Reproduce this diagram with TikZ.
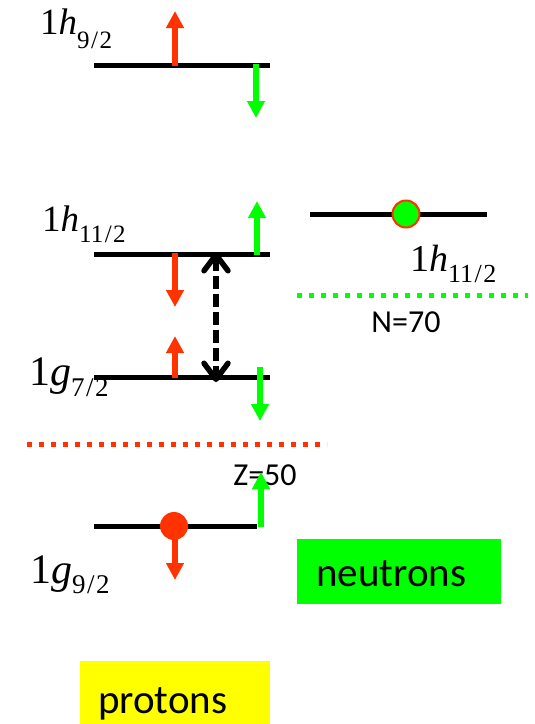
\documentclass[tikz,border=0pt]{standalone}
\usepackage{fontspec}
\setmainfont{Liberation Serif}
\newfontfamily\calfont{Carlito}
\usetikzlibrary{arrows.meta}
\definecolor{pred}{RGB}{255,51,0}
\definecolor{ngreen}{RGB}{0,255,0}
\definecolor{pyellow}{RGB}{255,255,0}
\newcommand{\lvlabel}[5]{{\fontsize{#1}{#1}\selectfont 1\textit{#3}}\raisebox{-#5pt}{\fontsize{#2}{#2}\selectfont #4}}
\newcommand{\frc}[2]{#1\kern1.5pt/\kern1.5pt#2}
\tikzset{
  level/.style={line width=5pt,black},
  spinup/.style={line width=6.5pt,-{Triangle[width=17pt,length=17pt]}},
  spindown/.style={line width=6.5pt,-{Triangle[width=17pt,length=17pt]}},
  lbl/.style={anchor=base west,inner sep=0pt},
  sanslbl/.style={anchor=base,inner sep=0pt,font=\calfont\fontsize{32}{32}\selectfont},
  gap/.style={line width=5pt,dash pattern=on 5pt off 7pt},
  boxlbl/.style={anchor=north west,inner sep=0pt,font=\calfont\fontsize{41}{41}\selectfont},
  barbtip/.tip={Straight Barb[length=16pt,width=24pt,line width=5.5pt,round]}
}
\begin{document}
\begin{tikzpicture}[x=1pt,y=-1pt]
\useasboundingbox (0,0) rectangle (535,724);
% ---- proton levels
\coordinate (h9L) at (94,65);  \coordinate (h9R) at (270,65);
\coordinate (h11L) at (94,254); \coordinate (h11R) at (270,254);
\coordinate (g7L) at (94,377);  \coordinate (g7R) at (270,377);
\coordinate (g9L) at (94,526);  \coordinate (g9R) at (257,526);
\draw[level] (h9L) -- (h9R);
\draw[level] (h11L) -- (h11R);
\draw[level] (g7L) -- (g7R);
\draw[level] (g9L) -- (g9R);
% labels
\node[lbl] (lh9) at (40,34) {\lvlabel{37}{25}{h}{\frc92}{14}};
\node[lbl] (lh11) at (42,231) {\lvlabel{37}{25}{h}{\frc{11}2}{11}};
\node[lbl] (lg7) at (29,385) {\lvlabel{42}{27}{g}{\frc72}{11}};
\node[lbl] (lg9) at (30,583) {\lvlabel{42}{27}{g}{\frc92}{10}};
% spin arrows, 1h9/2
\coordinate (a1s) at (175,66); \coordinate (a1e) at (175,11);
\draw[spinup,pred] (a1s) -- (a1e);
\coordinate (a2s) at (256,64); \coordinate (a2e) at (256,118);
\draw[spindown,ngreen] (a2s) -- (a2e);
% 1h11/2
\coordinate (a3s) at (257,255); \coordinate (a3e) at (257,201);
\draw[spinup,ngreen] (a3s) -- (a3e);
\coordinate (a4s) at (175,253); \coordinate (a4e) at (175,307);
\draw[spindown,pred] (a4s) -- (a4e);
% 1g7/2
\coordinate (a5s) at (175,378); \coordinate (a5e) at (175,336);
\draw[spinup,pred] (a5s) -- (a5e);
\coordinate (a6s) at (260,367); \coordinate (a6e) at (260,421);
\draw[spindown,ngreen] (a6s) -- (a6e);
% dashed transition
\coordinate (t1) at (216,252); \coordinate (t2) at (216,382);
\draw[line width=6.5pt,dash pattern=on 13pt off 5pt,barbtip-barbtip] (t1) -- (t2);
% Z=50 gap
\coordinate (z1) at (27,444); \coordinate (z2) at (327,444);
\draw[gap,pred] (z1) -- (z2);
\node[sanslbl] (Z) at (265,485) {Z=50};
% 1g9/2 arrows and circle
\coordinate (a7s) at (261,527); \coordinate (a7e) at (261,472);
\draw[spinup,ngreen] (a7s) -- (a7e);
\coordinate (a8s) at (175,526); \coordinate (a8e) at (175,580);
\draw[spindown,pred] (a8s) -- (a8e);
\node[circle,fill=pred,minimum size=28pt,inner sep=0pt] (pc) at (174,526) {};
% neutron level
\coordinate (nL) at (310,214); \coordinate (nR) at (487,214);
\draw[level] (nL) -- (nR);
\node[circle,fill=ngreen,draw=pred,line width=2pt,minimum size=27pt,inner sep=0pt] (nc) at (406,214) {};
\node[lbl] (lnh11) at (410,271) {\lvlabel{38}{26}{h}{\frc{11}2}{11}};
\coordinate (n1) at (297,295); \coordinate (n2) at (528,295);
\draw[gap,ngreen] (n1) -- (n2);
\node[sanslbl] (N) at (406,332) {N=70};
% legend boxes
\fill[ngreen] (297,539) rectangle (501,604);
\node[boxlbl,anchor=base west] (neut) at (316,586) {neutrons};
\fill[pyellow] (80,661) rectangle (270,724);
\node[boxlbl,anchor=base west] (prot) at (98,713) {protons};
\end{tikzpicture}
\end{document}
